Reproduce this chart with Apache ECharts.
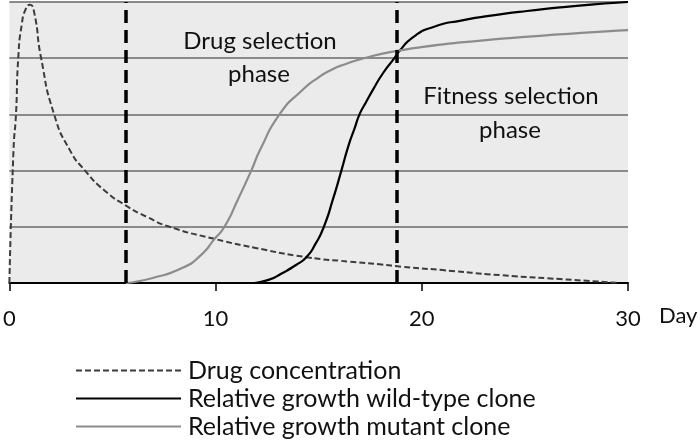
<!DOCTYPE html>
<html>
<head>
<meta charset="utf-8">
<script src="https://cdn.jsdelivr.net/npm/echarts@6/dist/echarts.min.js"></script>
<style>
  html, body { margin: 0; padding: 0; background: #fff; }
  #chart { width: 700px; height: 448px; }
</style>
</head>
<body>
<div id="chart"></div>
<script>
// x ticks (days)
var dayTicks = [0, 10, 20, 30];

// phase boundaries (days)
var phaseBounds = [5.65, 18.8];

// [day, value]
var drugConc = [
  [0, 0], [0.2, 2.37], [0.32, 3.0], [0.43, 4.0], [0.6, 4.6], [0.8, 4.88], [1.0, 4.95],
  [1.2, 4.82], [1.54, 4.0], [2.17, 3.0], [2.94, 2.36], [3.67, 2.0], [4.6, 1.65],
  [5.64, 1.38], [6.7, 1.17], [7.77, 1.0], [10, 0.78], [12, 0.62], [14.4, 0.46],
  [16.5, 0.38], [18.04, 0.33], [19, 0.29], [21, 0.23], [23.8, 0.14], [26.7, 0.07], [29.6, 0]
];

var wildType = [
  [11.87, 0], [12.6, 0.06], [13.2, 0.17], [13.9, 0.32], [14.4, 0.46], [14.85, 0.7],
  [15.25, 1.0], [15.7, 1.5], [16.1, 2.0], [16.45, 2.45], [16.74, 2.75], [16.98, 3.0],
  [17.3, 3.22], [17.65, 3.45], [18.15, 3.75], [18.67, 4.0], [18.85, 4.1], [19.6, 4.38],
  [20.6, 4.56], [21.9, 4.67], [23.8, 4.78], [25.1, 4.84], [27.5, 4.93], [30, 5.0]
];

var mutant = [
  [5.65, 0], [6.95, 0.09], [8.4, 0.27], [9.3, 0.5], [9.94, 0.78], [10.43, 1.0],
  [11.1, 1.5], [11.73, 2.0], [12.16, 2.37], [13.1, 3.0], [14.2, 3.43], [15.0, 3.66],
  [15.6, 3.79], [16.1, 3.87], [17.2, 4.0], [18.8, 4.13], [20.9, 4.24], [21.9, 4.28],
  [25, 4.38], [30, 4.5]
];

var seriesNames = ['Drug concentration', 'Relative growth wild-type clone', 'Relative growth mutant clone'];

var font = 'Lato';

var chart = echarts.init(document.getElementById('chart'));
chart.setOption({
  animation: false,
  grid: {
    left: 6, right: 72, top: 2, bottom: 165,
    show: true,
    backgroundColor: '#ebebeb',
    borderWidth: 0
  },
  legend: {
    orient: 'vertical',
    left: 70,
    top: 353,
    itemWidth: 105,
    itemHeight: 14,
    itemGap: 3,
    data: seriesNames,
    itemStyle: { opacity: 0 },
    textStyle: { fontFamily: font, fontSize: 25, color: '#111', padding: [0, 0, 0, 2] }
  },
  xAxis: {
    type: 'value',
    min: 0, max: 30, interval: 10,
    axisLine: { show: true, lineStyle: { color: '#000', width: 2 } },
    axisTick: { show: true, length: 8, lineStyle: { color: '#000', width: 1.5 } },
    axisLabel: {
      margin: 25,
      fontFamily: font, fontSize: 22, color: '#111',
      formatter: function (v) { return dayTicks.indexOf(v) >= 0 ? String(v) : ''; }
    },
    splitLine: { show: false }
  },
  yAxis: {
    type: 'value',
    min: 0, max: 5, interval: 1,
    axisLine: { show: false },
    axisTick: { show: false },
    axisLabel: { show: false },
    splitLine: { show: true, lineStyle: { color: '#8a8a8a', width: 2 } }
  },
  graphic: [
    { type: 'text', left: 659, top: 305, style: { text: 'Day', font: '22px Lato', fill: '#111' } },
    { type: 'text', x: 260, y: 41, style: { text: 'Drug selection', font: '24px Lato', fill: '#111', align: 'center', verticalAlign: 'middle' } },
    { type: 'text', x: 259, y: 74, style: { text: 'phase', font: '24px Lato', fill: '#111', align: 'center', verticalAlign: 'middle' } },
    { type: 'text', x: 511, y: 96, style: { text: 'Fitness selection', font: '24px Lato', fill: '#111', align: 'center', verticalAlign: 'middle' } },
    { type: 'text', x: 510, y: 130, style: { text: 'phase', font: '24px Lato', fill: '#111', align: 'center', verticalAlign: 'middle' } }
  ],
  series: [
    {
      name: seriesNames[0],
      type: 'line',
      data: drugConc,
      showSymbol: false,
      symbol: 'none',
      smooth: 0.6,
      color: '#3c3c3c',
      lineStyle: { color: '#3c3c3c', width: 2, type: [6, 3] },
      markLine: {
        silent: true,
        symbol: 'none',
        label: { show: false },
        lineStyle: { color: '#000', width: 3.5, type: [13, 7] },
        data: phaseBounds.map(function (d) { return { xAxis: d }; })
      },
      z: 3
    },
    {
      name: seriesNames[1],
      type: 'line',
      data: wildType,
      showSymbol: false,
      symbol: 'none',
      smooth: 0.6,
      color: '#000',
      lineStyle: { color: '#000', width: 2.2 },
      z: 4
    },
    {
      name: seriesNames[2],
      type: 'line',
      data: mutant,
      showSymbol: false,
      symbol: 'none',
      smooth: 0.6,
      color: '#8c8c8c',
      lineStyle: { color: '#8c8c8c', width: 2.2 },
      z: 4
    }
  ]
});
</script>
</body>
</html>
